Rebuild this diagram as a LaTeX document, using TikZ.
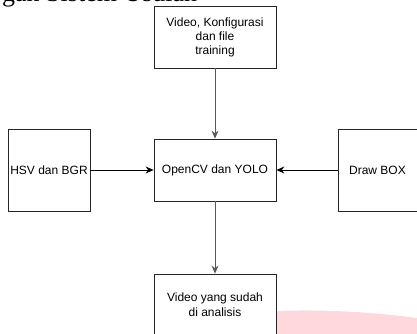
\documentclass[tikz,border=0pt]{standalone}
\usepackage{fontspec}
\setmainfont{Liberation Serif}
\setsansfont{Liberation Sans}
\usetikzlibrary{arrows.meta}
\definecolor{wmpink}{HTML}{FFD8DE}
\tikzset{blok/.style={draw=black!85,fill=white,line width=0.8pt,align=center,inner sep=0pt,font=\sffamily\fontsize{12}{14}\selectfont},
panah/.style={-{Stealth[length=8pt,width=7pt]},line width=0.8pt}}

\begin{document}
\begin{tikzpicture}[x=1pt,y=-1pt]
        \path[use as bounding box] (0,0) rectangle (417,334);
        \clip (0,0) rectangle (417,334);
        \fill[wmpink] (276,311) .. controls (330,309) and (380,313) .. (417,318) -- (417,334) -- (276,334) -- cycle;
        \node[anchor=base west,inner sep=0pt,font=\fontsize{26}{30}\selectfont] (judul) at (2,1.5) {gan Sistem Usulan};
        \node[blok,minimum width=122pt,minimum height=62pt] (input) at (215,37) {Video, Konfigurasi\\dan file\\training};
        \node[blok,minimum width=122pt,minimum height=62pt] (proses) at (215,170) {OpenCV dan YOLO};
        \node[blok,minimum width=82pt,minimum height=82pt] (warna) at (49,170) {HSV dan BGR};
        \node[blok,minimum width=79pt,minimum height=82pt] (kotak) at (377.5,170) {Draw BOX};
        \node[blok,minimum width=122pt,minimum height=62pt,font=\sffamily\fontsize{12}{15}\selectfont] (hasil) at (215,305) {Video yang sudah\\di analisis};
        \draw[panah,draw=black!65] (input) -- (proses);
        \draw[panah] (warna) -- (proses);
        \draw[panah] (kotak) -- (proses);
        \draw[panah,draw=black!65] (proses) -- (hasil);
    \end{tikzpicture}
\end{document}
